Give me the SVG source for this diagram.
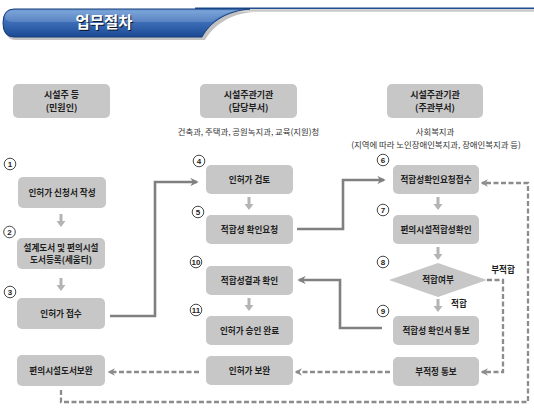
<svg xmlns="http://www.w3.org/2000/svg" width="534" height="409" viewBox="0 0 534 409">
<defs>
<linearGradient id="bn" x1="0" y1="0" x2="0" y2="1">
<stop offset="0" stop-color="#6a9ad6"/>
<stop offset="0.45" stop-color="#3d6fb8"/>
<stop offset="1" stop-color="#1b4a93"/>
</linearGradient>
<marker id="ah" viewBox="0 0 10 10" refX="8" refY="5" markerWidth="3.2" markerHeight="3.2" orient="auto" markerUnits="strokeWidth">
<path d="M0,0 L10,5 L0,10 L3,5 Z" fill="#808080"/>
</marker>
<marker id="ahd" viewBox="0 0 10 10" refX="8" refY="5" markerWidth="3.2" markerHeight="3.2" orient="auto" markerUnits="strokeWidth">
<path d="M0,0 L10,5 L0,10 L3,5 Z" fill="#8c8c8c"/>
</marker>
<g id="dn"><path d="M-1.5,0 H1.5 V7 H4.5 L0,13 L-4.5,7 H-1.5 Z" fill="#b4b4b4"/></g>
</defs>
<style>
text{font-family:"Noto Sans CJK KR","Noto Sans",sans-serif;fill:#1e1e1e}
.box{fill:#c7c7c7}
.t{font-size:8.6px;font-weight:700;text-anchor:middle}
.h{font-size:9px;font-weight:700;text-anchor:middle}
.s{font-size:8.4px;text-anchor:middle;fill:#333}
.num{fill:#fff;stroke:#333;stroke-width:0.9}
.nt{font-size:8px;font-weight:700;text-anchor:middle;font-family:"Liberation Sans",sans-serif}
.con{fill:none;stroke:#808080;stroke-width:2.6;marker-end:url(#ah)}
.dash{fill:none;stroke:#8c8c8c;stroke-width:2.3;stroke-dasharray:5 2.5;marker-end:url(#ahd)}
.lab{font-size:8.6px;font-weight:700;text-anchor:middle}
</style>

<g id="banner">
<line x1="195" y1="10.5" x2="534" y2="10.5" stroke="#c8c8c8" stroke-width="2.5"/>
<line x1="195" y1="8.3" x2="534" y2="8.3" stroke="#1d4f92" stroke-width="1.6"/>
<path d="M16,12 L253,12 C230,14 214,25 205,40 L16,40 Q5,40 5,26 Q5,12 16,12 Z" fill="#9a9a9a" opacity="0.6"/>
<path d="M14,9 L250,9 C226,11 210,22 202,37 L14,37 Q3,37 3,23 Q3,9 14,9 Z" fill="url(#bn)" stroke="#143d78" stroke-width="1"/>
<path d="M14,10.5 L236,10.5 C225,13 218,17 212,22 L14,22 Q5,22 5,16 Q6,10.5 14,10.5 Z" fill="#ffffff" opacity="0.15"/>
<text x="105" y="29" font-size="15.5" font-weight="700" text-anchor="middle" style="fill:#000" opacity="0.8">업무절차</text>
<text x="104" y="28" font-size="15.5" font-weight="700" text-anchor="middle" style="fill:#fff">업무절차</text>
</g>

<g id="hdr1"><rect class="box" x="13" y="84" width="97" height="34" rx="5"/><text class="h" x="61.5" y="98">시설주 등</text><text class="h" x="61.5" y="111">(민원인)</text></g>
<g id="hdr2"><rect class="box" x="200" y="84" width="97" height="34" rx="5"/><text class="h" x="248.5" y="98">시설주관기관</text><text class="h" x="248.5" y="111">(담당부서)</text><text class="s" x="248.5" y="135">건축과, 주택과, 공원녹지과, 교육(지원)청</text></g>
<g id="hdr3"><rect class="box" x="387" y="84" width="96" height="34" rx="5"/><text class="h" x="435" y="98">시설주관기관</text><text class="h" x="435" y="111">(주관부서)</text><text class="s" x="435" y="135">사회복지과</text><text class="s" x="436" y="147.5">(지역에 따라 노인장애인복지과, 장애인복지과 등)</text></g>

<g id="connectors">
<path class="con" d="M110,316 H155 V182 H197"/>
<path class="con" d="M297,229 H343 V180 H384"/>
<path class="con" d="M382,328 H340 V280 H299"/>
<path class="dash" d="M487,280 H503 V372 H482"/>
<path class="dash" d="M390,372 H296"/>
<path class="dash" d="M199,372 H109"/>
<path class="dash" d="M61,390 V402 H528 V183 H482"/>
<use href="#dn" x="61" y="214"/>
<use href="#dn" x="61" y="278"/>
<use href="#dn" x="249" y="197"/>
<use href="#dn" x="249" y="298"/>
<use href="#dn" x="438" y="197"/>
<use href="#dn" x="438" y="247"/>
<use href="#dn" x="438" y="299"/>
<text class="lab" x="503" y="273">부적합</text>
<text class="lab" x="459" y="307">적합</text>
</g>

<g id="n1"><circle class="num" cx="10" cy="164" r="5.8"/><text class="nt" x="10" y="167">1</text><rect class="box" x="18" y="177" width="88" height="31" rx="5"/><text class="t" x="62" y="196">인허가 신청서 작성</text></g>
<g id="n2"><circle class="num" cx="9.5" cy="232" r="5.8"/><text class="nt" x="9.5" y="235">2</text><rect class="box" x="17" y="238" width="88" height="31" rx="5"/><text class="t" x="61" y="251">설계도서 및 편의시설</text><text class="t" x="61" y="263">도서등록(세움터)</text></g>
<g id="n3"><circle class="num" cx="10" cy="292" r="5.8"/><text class="nt" x="10" y="295">3</text><rect class="box" x="17" y="298" width="88" height="31" rx="5"/><text class="t" x="61" y="317">인허가 접수</text></g>
<g id="n12"><rect class="box" x="17" y="355" width="88" height="31" rx="5"/><text class="t" x="61" y="374">편의시설도서보완</text></g>

<g id="n4"><circle class="num" cx="199" cy="161" r="5.8"/><text class="nt" x="199" y="164">4</text><rect class="box" x="206" y="165" width="87" height="29" rx="5"/><text class="t" x="249.5" y="183">인허가 검토</text></g>
<g id="n5"><circle class="num" cx="198" cy="212" r="5.8"/><text class="nt" x="198" y="215">5</text><rect class="box" x="206" y="215" width="87" height="29" rx="5"/><text class="t" x="249.5" y="233">적합성 확인요청</text></g>
<g id="n10"><circle class="num" cx="196" cy="262" r="5.8"/><text class="nt" x="196" y="265">10</text><rect class="box" x="206" y="266" width="87" height="29" rx="5"/><text class="t" x="249.5" y="284">적합성결과 확인</text></g>
<g id="n11"><circle class="num" cx="196" cy="310" r="5.8"/><text class="nt" x="196" y="313">11</text><rect class="box" x="206" y="316" width="87" height="29" rx="5"/><text class="t" x="249.5" y="334">인허가 승인 완료</text></g>
<g id="n13"><rect class="box" x="206" y="356" width="87" height="29" rx="5"/><text class="t" x="249.5" y="374">인허가 보완</text></g>

<g id="n6"><circle class="num" cx="383" cy="160" r="5.8"/><text class="nt" x="383" y="163">6</text><rect class="box" x="393" y="165" width="86" height="29" rx="5"/><text class="t" x="436" y="183">적합성확인요청접수</text></g>
<g id="n7"><circle class="num" cx="383" cy="210" r="5.8"/><text class="nt" x="383" y="213">7</text><rect class="box" x="393" y="215" width="86" height="29" rx="5"/><text class="t" x="436" y="233">편의시설적합성확인</text></g>
<g id="n8"><circle class="num" cx="383" cy="262" r="5.8"/><text class="nt" x="383" y="265">8</text><path class="box" d="M438,263 L487,280 L438,297 L389,280 Z"/><text class="t" x="438" y="283">적합여부</text></g>
<g id="n9"><circle class="num" cx="383" cy="311" r="5.8"/><text class="nt" x="383" y="314">9</text><rect class="box" x="393" y="316" width="86" height="29" rx="5"/><text class="t" x="436" y="334">적합성 확인서 통보</text></g>
<g id="n14"><rect class="box" x="393" y="357" width="86" height="29" rx="5"/><text class="t" x="436" y="375">부적정 통보</text></g>
</svg>
